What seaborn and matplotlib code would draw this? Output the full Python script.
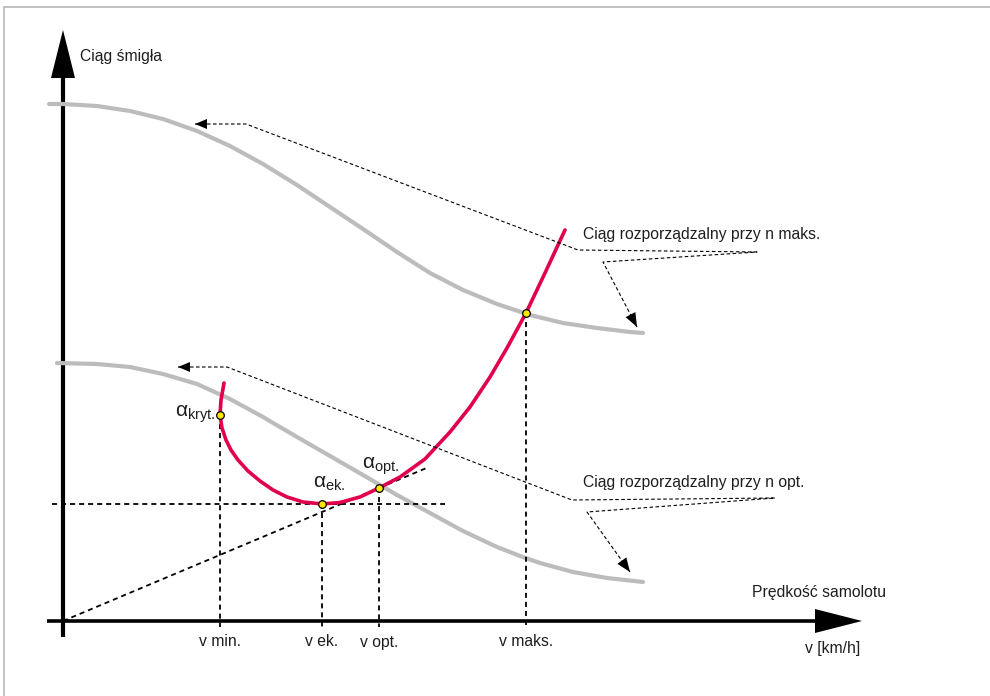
import matplotlib
matplotlib.use("Agg")
import matplotlib.pyplot as plt
import numpy as np
import pandas as pd
import seaborn as sns
from matplotlib import font_manager
from matplotlib.patches import Polygon

# Coordinates: v = aircraft speed, T = propeller thrust, origin at the axes crossing.
thrust_max_v = [-14, 0, 34, 67, 100, 134, 167, 200, 234, 267, 300, 334, 367, 400, 434, 467, 500, 534, 567, 580]
thrust_max_T = [517, 517, 515, 510, 502, 490, 475, 457, 436, 414, 392, 369, 348, 331, 317, 306, 298, 293, 289, 288]

thrust_opt_v = [-6, 34, 67, 100, 134, 167, 200, 234, 267, 300, 334, 367, 400, 434, 457, 477, 510, 544, 580]
thrust_opt_T = [258, 257, 254, 247, 237, 222, 204, 184, 165, 146, 126, 108, 90, 74, 65, 58, 49, 43, 39]

required_v = [161, 158, 157, 159, 163, 168, 175, 185, 197, 210, 224, 240, 259, 277, 297, 316,
              337, 362, 387, 407, 427, 444, 463, 482, 502]
required_T = [238, 221, 206, 193, 181, 171, 161, 150, 140, 131, 124, 119, 117, 118.5, 124, 133,
              144, 162, 189, 214, 244, 273, 308, 348, 391]

point_names = ["kryt.", "ek.", "opt.", "maks."]
point_v = [157, 259, 316, 463]
point_T = [206, 117, 133, 308]
speed_labels = ["v min.", "v ek.", "v opt.", "v maks."]

label_max = "Ciąg rozporządzalny przy n maks."
label_opt = "Ciąg rozporządzalny przy n opt."
y_title = "Ciąg śmigła"
x_title = "Prędkość samolotu"
x_unit = "v [km/h]"

# Leader paths from the curve labels to the curves
leader_max_v = [132, 183, 515, 694, 540, 574]
leader_max_T = [497, 497, 371, 369, 359, 294]
leader_opt_v = [115, 164, 509, 712, 524, 567]
leader_opt_T = [254, 254, 121, 123, 109, 49]

sns.set_style("white")
available = {f.name for f in font_manager.fontManager.ttflist}
main_font = next((f for f in ["Liberation Sans", "Arimo", "DejaVu Sans"] if f in available), "DejaVu Sans")
plt.rcParams["font.family"] = [main_font, "DejaVu Sans"]
plt.rcParams["mathtext.fontset"] = "custom"
plt.rcParams["mathtext.rm"] = main_font
plt.rcParams["mathtext.it"] = main_font
plt.rcParams["lines.scale_dashes"] = True

TEXT = "#1e1e1e"
GREY = "#bcbcbc"
RED = "#e0004d"
FS = 11.3

fig = plt.figure(figsize=(9.9, 6.96), dpi=100)
ax = fig.add_axes([0, 0, 1, 1])
ax.set_xlim(-63, 927)
ax.set_ylim(-75, 621)
ax.axis("off")

# frame
ax.plot([-59, 940], [614, 614], color="#c2c2c2", lw=1.4, clip_on=False)
ax.plot([-59, -59], [614, -90], color="#c2c2c2", lw=1.4, clip_on=False)


def arrow_head(tip, base_from, length, half_width, **kw):
    tip = np.asarray(tip, float)
    d = tip - np.asarray(base_from, float)
    d /= np.hypot(*d)
    n = np.array([-d[1], d[0]])
    base = tip - d * length
    ax.add_patch(Polygon([tip, base + n * half_width, base - n * half_width], closed=True, **kw))


# axes with arrows
ax.plot([0, 0], [-16, 548], color="black", lw=3.0, solid_capstyle="butt")
arrow_head((0, 591), (0, 0), 48, 12, color="black", lw=0)
ax.plot([-16, 757], [0, 0], color="black", lw=2.6, solid_capstyle="butt")
arrow_head((799, 0), (0, 0), 47, 12, color="black", lw=0)

# available thrust curves
df_max = pd.DataFrame({"v": thrust_max_v, "T": thrust_max_T})
df_opt = pd.DataFrame({"v": thrust_opt_v, "T": thrust_opt_T})
curve_kw = dict(sort=False, estimator=None, solid_joinstyle="round", ax=ax)
sns.lineplot(data=df_max, x="v", y="T", color=GREY, lw=3.0, **curve_kw)
sns.lineplot(data=df_opt, x="v", y="T", color=GREY, lw=3.0, **curve_kw)

# guide lines
guide = dict(color="black", lw=1.3, linestyle=(0, (2.8, 2.2)))
for v, T in zip(point_v, point_T):
    ax.plot([v, v], [T, -6], **guide)
ek_T = point_T[1]
ax.plot([-11, 382], [ek_T, ek_T], **guide)
slope = point_T[2] / point_v[2]
ax.plot([0, 364], [0, slope * 364], **guide)

# required thrust curve
df_req = pd.DataFrame({"v": required_v, "T": required_T})
sns.lineplot(data=df_req, x="v", y="T", color=RED, lw=2.6, **curve_kw)

# characteristic points
sns.scatterplot(x=point_v, y=point_T, s=30, color="#ffe800", edgecolor="black", linewidth=0.9, ax=ax, zorder=5)

# leader lines
thin = dict(color="black", lw=0.8, linestyle=(0, (3.2, 2.2)))
for lv, lT in [(leader_max_v, leader_max_T), (leader_opt_v, leader_opt_T)]:
    ax.plot(lv, lT, **thin)
    arrow_head((lv[0], lT[0]), (lv[1], lT[1]), 12, 5, color="black", lw=0)
    arrow_head((lv[-1], lT[-1]), (lv[-2], lT[-2]), 14, 5.5, color="black", lw=0)

# texts
ax.text(17, 564, y_title, fontsize=FS, color=TEXT, ha="left", va="center")
ax.text(689, 29, x_title, fontsize=FS, color=TEXT, ha="left", va="center")
ax.text(742, -27, x_unit, fontsize=FS, color=TEXT, ha="left", va="center")
ax.text(520, 386, label_max, fontsize=FS, color=TEXT, ha="left", va="center")
ax.text(520, 139, label_opt, fontsize=FS, color=TEXT, ha="left", va="center")
for v, lab in zip(point_v, speed_labels):
    ax.text(v, -21, lab, fontsize=FS, color=TEXT, ha="center", va="center")

alpha_fs = 15
ax.text(point_v[0] - 4, point_T[0] - 2, r"$\mathrm{α}_{\mathrm{" + point_names[0] + "}}$",
        fontsize=alpha_fs, color=TEXT, ha="right", va="baseline")
ax.text(point_v[1] - 9, point_T[1] + 16, r"$\mathrm{α}_{\mathrm{" + point_names[1] + "}}$",
        fontsize=alpha_fs, color=TEXT, ha="left", va="baseline")
ax.text(point_v[2] - 17, point_T[2] + 19, r"$\mathrm{α}_{\mathrm{" + point_names[2] + "}}$",
        fontsize=alpha_fs, color=TEXT, ha="left", va="baseline")

fig.savefig("out.png", dpi=100)
